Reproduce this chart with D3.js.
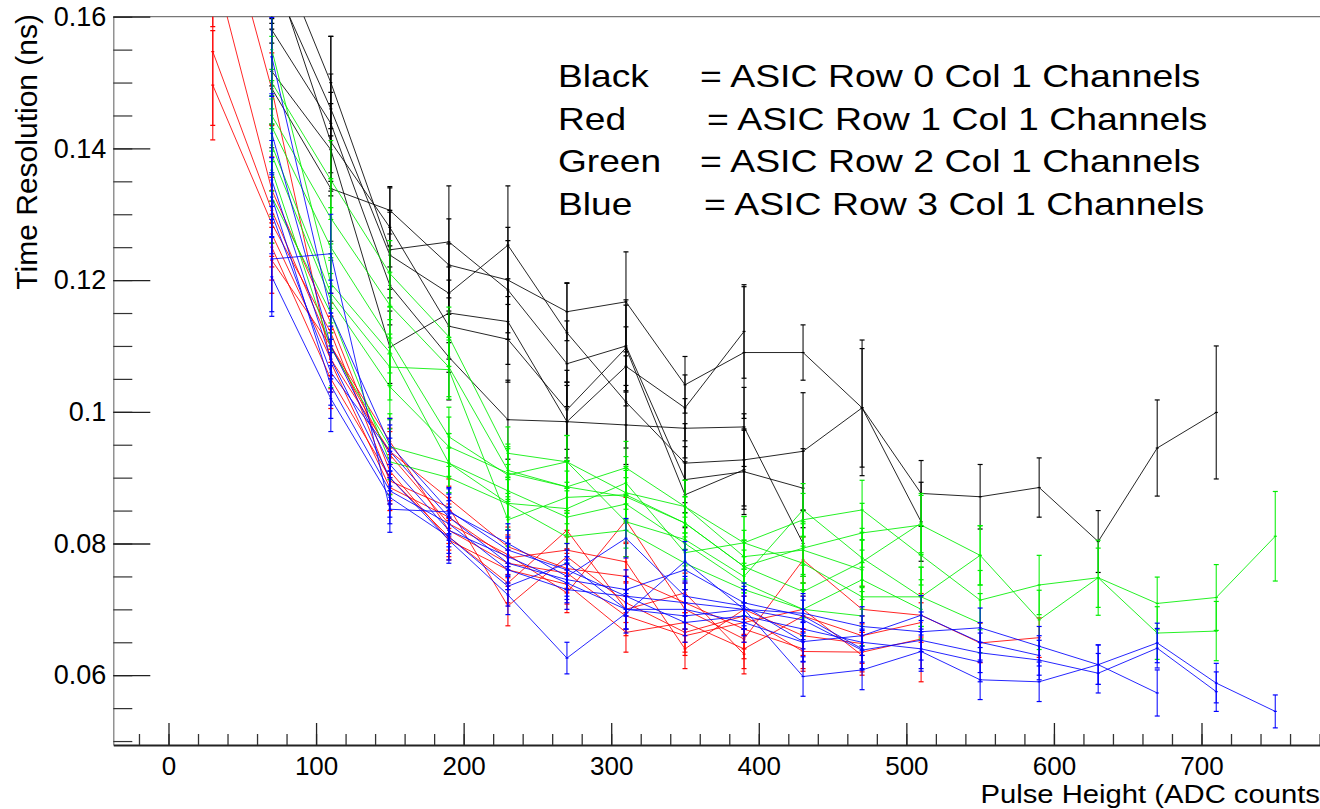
<!DOCTYPE html>
<html><head><meta charset="utf-8">
<script src="https://cdn.jsdelivr.net/npm/d3@7"></script>
<style>body{margin:0;background:#fff;} svg{display:block;} text{font-family:"Liberation Sans",Arial,sans-serif;fill:#000;}</style>
</head><body><svg id="c" width="1320" height="809"></svg>
<script>
// ---------- data ----------
const pulseHeights = [30,70,110,150,190,230,270,310,350,390,430,470,510,550,590,630,670,710,750];
const xTickValues = [0,100,200,300,400,500,600,700];
const yTickValues = [0.06,0.08,0.10,0.12,0.14,0.16];
const yTickLabels = ["0.06","0.08","0.1","0.12","0.14","0.16"];

// Row 0 (black)
const blackStart = [70,70,70,70,70,70];
const blackY = [
 [0.1491,0.1339,0.1306,0.1223,0.1200,0.1152,0.1167,0.1041,0.1090,0.1090,0.1006,0.0876,0.0871,0.0885,0.0803,0.0945,0.0999],
 [0.1720,0.1500,0.1246,0.1258,0.1185,0.1073,0.1100,0.0897,0.0909,0.0884],
 [0.1660,0.1460,0.1238,0.1180,0.1253,0.1120,0.1015,0.0922,0.0927,0.0940,0.1006,0.0833],
 [0.1517,0.1398,0.1098,0.1150,0.1137,0.0985,0.1069,0.1006,0.1122],
 [0.1580,0.1438,0.1192,0.1083,0.0988,0.0985,0.0980,0.0975,0.0977,0.0800],
 [0.1680,0.1410,0.1280,0.1130,0.1110,0.1003,0.1097,0.0874,0.0912]
];
const blackErr = [
 [0.0090,0.0080,0.0036,0.0070,0.0080,0.0044,0.0076,0.0043,0.0100,0.0042,0.0103,0.0050,0.0049,0.0045,0.0047,0.0073,0.0101],
 [0.0100,0.0070,0.0060,0.0085,0.0075,0.0065,0.0070,0.0050,0.0065,0.0060],
 [0.0100,0.0110,0.0065,0.0075,0.0090,0.0075,0.0070,0.0060,0.0070,0.0089,0.0090,0.0060],
 [0.0080,0.0070,0.0055,0.0070,0.0065,0.0060,0.0060,0.0050,0.0071],
 [0.0085,0.0075,0.0060,0.0065,0.0060,0.0055,0.0060,0.0045,0.0060,0.0050],
 [0.0090,0.0075,0.0060,0.0070,0.0065,0.0060,0.0065,0.0050,0.0060]
];

// Row 1 (red)
const redStart = [30,30,30,30,70,70,70];
const redY = [
 [0.1547,0.1306,0.1100,0.0935,0.0830,0.0783,0.0725,0.0835,0.0700,0.0655,0.0775,0.0700,0.0691,0.0649,0.0657],
 [0.1496,0.1286,0.1120,0.0895,0.0855,0.0705,0.0780,0.0710,0.0665,0.0690,0.0636,0.0635,0.0655],
 [0.1685,0.1337,0.1135,0.0910,0.0805,0.0760,0.0738,0.0665,0.0680,0.0640,0.0690,0.0660,0.0680],
 [0.1820,0.1490,0.1075,0.0885,0.0840,0.0778,0.0790,0.0772,0.0640,0.0700,0.0660,0.0648],
 [0.1270,0.1080,0.0940,0.0868,0.0795,0.0762,0.0750,0.0710,0.0670,0.0640],
 [0.1250,0.1050,0.0900,0.0810,0.0740,0.0820,0.0700,0.0725,0.0632],
 [0.1230,0.1100,0.0955,0.0820,0.0770,0.0755,0.0690,0.0660,0.0680,0.0700,0.0630]
];
const redErr = [
 [0.0112,0.0050,0.0045,0.0035,0.0030,0.0030,0.0030,0.0035,0.0030,0.0030,0.0035,0.0035,0.0033,0.0030,0.0030],
 [0.0083,0.0050,0.0045,0.0035,0.0032,0.0030,0.0030,0.0030,0.0030,0.0030,0.0030,0.0030,0.0065],
 [0.0100,0.0050,0.0045,0.0035,0.0030,0.0030,0.0030,0.0030,0.0030,0.0030,0.0030,0.0030,0.0030],
 [0.0100,0.0055,0.0045,0.0035,0.0030,0.0030,0.0030,0.0030,0.0030,0.0030,0.0030,0.0030],
 [0.0050,0.0045,0.0035,0.0030,0.0030,0.0030,0.0030,0.0030,0.0030,0.0030],
 [0.0050,0.0045,0.0035,0.0030,0.0030,0.0030,0.0030,0.0030,0.0030],
 [0.0050,0.0045,0.0035,0.0030,0.0030,0.0030,0.0030,0.0030,0.0030,0.0030,0.0030]
];

// Row 2 (green)
const greenStart = [70,70,70,70,70,70,70,70];
const greenY = [
 [0.1500,0.1352,0.1210,0.1114,0.0937,0.0924,0.0877,0.0856,0.0801,0.0836,0.0851,0.0782,0.0714,0.0737,0.0748,0.0709,0.0718,0.0811],
 [0.1450,0.1294,0.1162,0.1068,0.0911,0.0886,0.0871,0.0831,0.0765,0.0793,0.0816,0.0828,0.0782,0.0684,0.0748,0.0664,0.0667],
 [0.1433,0.1250,0.1109,0.0962,0.0904,0.0924,0.0833,0.0806,0.0750,0.0851,0.0778,0.0719,0.0679],
 [0.1550,0.1195,0.1090,0.0922,0.0861,0.0853,0.0892,0.0786,0.0801,0.0770,0.0719,0.0719,0.0782],
 [0.1405,0.1180,0.1068,0.1064,0.0836,0.0870,0.0874,0.0831,0.0765,0.0727,0.0772,0.0831],
 [0.1390,0.1170,0.1038,0.0947,0.0907,0.0886,0.0915,0.0856,0.0780,0.0790,0.0760],
 [0.1367,0.1097,0.0947,0.0922,0.0880,0.0840,0.0860,0.0800,0.0740,0.0700,0.0745,0.0700],
 [0.1326,0.1150,0.0924,0.0900,0.0860,0.0810,0.0820,0.0770,0.0730,0.0700,0.0690]
];
const greenErr = [
 [0.0070,0.0060,0.0050,0.0045,0.0040,0.0040,0.0040,0.0040,0.0040,0.0040,0.0045,0.0045,0.0045,0.0045,0.0057,0.0040,0.0050,0.0068],
 [0.0070,0.0060,0.0050,0.0045,0.0040,0.0040,0.0040,0.0040,0.0040,0.0040,0.0045,0.0045,0.0045,0.0045,0.0045,0.0040,0.0045],
 [0.0070,0.0060,0.0050,0.0045,0.0040,0.0040,0.0040,0.0040,0.0040,0.0040,0.0045,0.0045,0.0045],
 [0.0070,0.0060,0.0050,0.0045,0.0040,0.0040,0.0040,0.0040,0.0040,0.0040,0.0045,0.0045,0.0045],
 [0.0070,0.0060,0.0050,0.0045,0.0040,0.0040,0.0040,0.0040,0.0040,0.0040,0.0045,0.0045],
 [0.0070,0.0060,0.0050,0.0045,0.0040,0.0040,0.0040,0.0040,0.0040,0.0040,0.0045],
 [0.0070,0.0060,0.0050,0.0045,0.0040,0.0040,0.0040,0.0040,0.0040,0.0040,0.0045,0.0045],
 [0.0070,0.0060,0.0050,0.0045,0.0040,0.0040,0.0040,0.0040,0.0040,0.0040,0.0045]
];

// Row 3 (blue)
const blueStart = [70,70,70,70,70,70,70];
const blueY = [
 [0.1539,0.1150,0.0950,0.0850,0.0790,0.0760,0.0720,0.0710,0.0700,0.0694,0.0674,0.0666,0.0672,0.0644,0.0616,0.0649,0.0588,0.0545],
 [0.1423,0.1100,0.0920,0.0820,0.0780,0.0740,0.0700,0.0690,0.0700,0.0684,0.0638,0.0653,0.0634,0.0623,0.0603,0.0641,0.0575],
 [0.1352,0.1080,0.0900,0.0805,0.0722,0.0626,0.0694,0.0773,0.0700,0.0598,0.0608,0.0636,0.0593,0.0590,0.0616,0.0573],
 [0.1232,0.1240,0.0852,0.0848,0.0800,0.0750,0.0808,0.0720,0.0705,0.0651,0.0660,0.0691,0.0650,0.0630],
 [0.1326,0.1040,0.0880,0.0830,0.0760,0.0730,0.0720,0.0680,0.0690,0.0670,0.0650,0.0640,0.0620],
 [0.1205,0.1020,0.0870,0.0810,0.0735,0.0770,0.0700,0.0700,0.0680,0.0650],
 [0.1300,0.1060,0.0940,0.0840,0.0770,0.0745,0.0730,0.0760,0.0710,0.0690,0.0640]
];
const blueErr = [
 [0.0060,0.0050,0.0040,0.0035,0.0030,0.0030,0.0030,0.0030,0.0030,0.0030,0.0030,0.0030,0.0030,0.0030,0.0030,0.0030,0.0030,0.0025],
 [0.0060,0.0050,0.0040,0.0035,0.0030,0.0030,0.0030,0.0030,0.0030,0.0030,0.0030,0.0030,0.0030,0.0030,0.0030,0.0030,0.0030],
 [0.0060,0.0050,0.0040,0.0035,0.0030,0.0024,0.0030,0.0030,0.0030,0.0030,0.0030,0.0030,0.0030,0.0030,0.0030,0.0035],
 [0.0080,0.0060,0.0035,0.0035,0.0030,0.0030,0.0030,0.0030,0.0030,0.0030,0.0030,0.0030,0.0030,0.0030],
 [0.0060,0.0050,0.0040,0.0035,0.0030,0.0030,0.0030,0.0030,0.0030,0.0030,0.0030,0.0030,0.0030],
 [0.0060,0.0050,0.0040,0.0035,0.0030,0.0030,0.0030,0.0030,0.0030,0.0030],
 [0.0060,0.0050,0.0040,0.0035,0.0030,0.0030,0.0030,0.0030,0.0030,0.0030,0.0030]
];

const legendColorWords = ["Black","Red","Green","Blue"];
const legendTexts = ["= ASIC Row 0 Col 1 Channels","= ASIC Row 1 Col 1 Channels","= ASIC Row 2 Col 1 Channels","= ASIC Row 3 Col 1 Channels"];

// ---------- drawing ----------
const svg = d3.select('#c');
const L = 113.3, R = 1320, T = 16.7, B = 745;
const x = d3.scaleLinear().domain([-37.4, 780.3]).range([L, R]);
const y = d3.scaleLinear().domain([0.0494, 0.16]).range([B, T]);

svg.append('defs').append('clipPath').attr('id','clip')
  .append('rect').attr('x',L).attr('y',T).attr('width',R-L).attr('height',B-T);

// top frame
svg.append('line').attr('x1',L).attr('x2',R).attr('y1',T).attr('y2',T)
  .attr('stroke','#777').attr('stroke-width',1.2);

// data
const plot = svg.append('g').attr('clip-path','url(#clip)');
function drawGroup(starts, ys, errs, color){
  starts.forEach((s, si) => {
    const i0 = pulseHeights.indexOf(s);
    const pts = ys[si].map((v, k) => ({px: pulseHeights[i0+k], v: v, e: errs[si][k]}));
    const g = plot.append('g');
    g.append('path').datum(pts)
      .attr('d', d3.line().x(d => x(d.px)).y(d => y(d.v)))
      .attr('fill','none').attr('stroke',color).attr('stroke-width',1).attr('stroke-opacity',0.85);
    pts.forEach(d => {
      const cx = x(d.px), y1 = y(d.v + d.e), y2 = y(d.v - d.e);
      g.append('line').attr('x1',cx).attr('x2',cx).attr('y1',y1).attr('y2',y2)
        .attr('stroke',color).attr('stroke-width',1.2).attr('stroke-opacity',0.85);
      [y1, y2].forEach(yy => g.append('line').attr('x1',cx-2.5).attr('x2',cx+2.5).attr('y1',yy).attr('y2',yy)
        .attr('stroke',color).attr('stroke-width',1.2));
      g.append('line').attr('x1',cx-1.5).attr('x2',cx+1.5).attr('y1',y(d.v)).attr('y2',y(d.v))
        .attr('stroke',color).attr('stroke-width',1.2);
    });
  });
}
drawGroup(blackStart, blackY, blackErr, '#000000');
drawGroup(redStart, redY, redErr, '#ff0000');
drawGroup(greenStart, greenY, greenErr, '#00ee00');
drawGroup(blueStart, blueY, blueErr, '#0000ff');

// y axis
const yMinor = d3.range(0.05, 0.1601, 0.005).map(v => +v.toFixed(3));
svg.append('g').attr('transform',`translate(${L},0)`)
  .call(d3.axisLeft(y).tickValues(yMinor).tickSizeInner(-19).tickSizeOuter(0).tickFormat(''))
  .call(g => g.select('.domain').attr('stroke','#777').attr('stroke-width',1.2))
  .call(g => g.selectAll('.tick line').attr('stroke','#333').attr('stroke-width',1.2));
svg.append('g').attr('transform',`translate(${L},0)`)
  .call(d3.axisLeft(y).tickValues(yTickValues).tickSizeInner(-37).tickSizeOuter(0).tickPadding(7)
        .tickFormat((d,i) => yTickLabels[i]))
  .call(g => g.select('.domain').remove())
  .call(g => g.selectAll('.tick line').attr('stroke','#222').attr('stroke-width',1.3))
  .call(g => g.selectAll('.tick text').attr('font-size',27).attr('font-family','"Liberation Sans",Arial,sans-serif').attr('fill','#000'));

// x axis
const xMinor = d3.range(-20, 781, 20);
svg.append('g').attr('transform',`translate(0,${B})`)
  .call(d3.axisBottom(x).tickValues(xMinor).tickSizeInner(-11).tickSizeOuter(0).tickFormat(''))
  .call(g => g.select('.domain').attr('stroke','#222').attr('stroke-width',2))
  .call(g => g.selectAll('.tick line').attr('stroke','#333').attr('stroke-width',1.3));
svg.append('g').attr('transform',`translate(0,${B})`)
  .call(d3.axisBottom(x).tickValues(xTickValues).tickSizeInner(-22).tickSizeOuter(0).tickPadding(12)
        .tickFormat(d3.format('d')))
  .call(g => g.select('.domain').remove())
  .call(g => g.selectAll('.tick line').attr('stroke','#222').attr('stroke-width',1.3))
  .call(g => g.selectAll('.tick text').attr('font-size',26).attr('font-family','"Liberation Sans",Arial,sans-serif').attr('fill','#000'));

// axis titles
svg.append('text').attr('transform','translate(1320,803) scale(1.17,1)').attr('text-anchor','end')
  .attr('font-size',25).text('Pulse Height (ADC counts');
svg.append('text').attr('transform','translate(37,14) rotate(-90)').attr('text-anchor','end')
  .attr('font-size',30).text('Time Resolution (ns)');

// legend
const legBase = [87,130,172,215];
const legEqX = [700,707,700,704];
legendColorWords.forEach((w,i) => {
  svg.append('text').attr('transform',`translate(558,${legBase[i]}) scale(1.16,1)`).attr('font-size',32).text(w);
  svg.append('text').attr('transform',`translate(${legEqX[i]},${legBase[i]}) scale(1.17,1)`).attr('font-size',32).text(legendTexts[i]);
});
</script></body></html>
